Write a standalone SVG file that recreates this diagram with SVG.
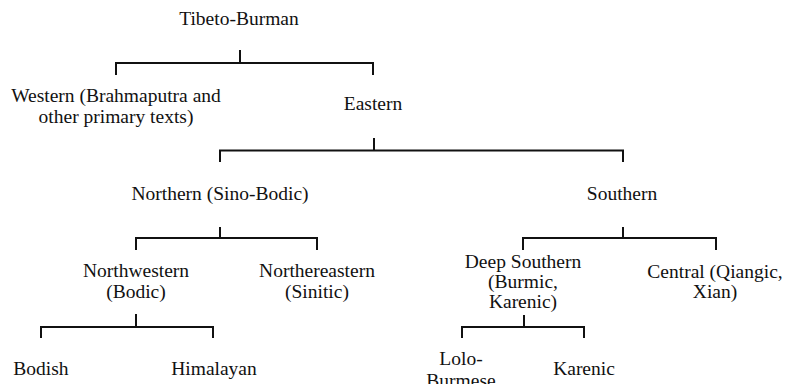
<svg xmlns="http://www.w3.org/2000/svg" width="788" height="384" viewBox="0 0 788 384">
<style>
text{font-family:"Liberation Serif","Times New Roman",serif;font-size:19.5px;fill:#111;text-anchor:middle}
.c path{fill:none;stroke:#111;stroke-width:2}
</style>
<rect width="788" height="384" fill="#fff"/>
<g class="c" id="connectors">
<path d="M116,75V63H373V75M240,50V63"/>
<path d="M220,162V150.5H623V162M374,138V150.5"/>
<path d="M136,250V238H317V250M220,227V238"/>
<path d="M523,250V238H716V250M623,227V238"/>
<path d="M41,338V327H213V338M136,314V327"/>
<path d="M462,338V327H584V338M524,315V327"/>
</g>
<g id="tibeto-burman"><text x="239" y="25">Tibeto-Burman</text></g>
<g id="western"><text x="116" y="102">Western (Brahmaputra and</text><text x="116" y="122.5">other primary texts)</text></g>
<g id="eastern"><text x="373" y="110">Eastern</text></g>
<g id="northern"><text x="220" y="200">Northern (Sino-Bodic)</text></g>
<g id="southern"><text x="622" y="200">Southern</text></g>
<g id="northwestern"><text x="136" y="277">Northwestern</text><text x="136" y="297.5">(Bodic)</text></g>
<g id="northeastern"><text x="317" y="277">Northereastern</text><text x="317" y="297.5">(Sinitic)</text></g>
<g id="deep-southern"><text x="523" y="267.5">Deep Southern</text><text x="523" y="288">(Burmic,</text><text x="523" y="307.5">Karenic)</text></g>
<g id="central"><text x="715" y="278">Central (Qiangic,</text><text x="715" y="298">Xian)</text></g>
<g id="bodish"><text x="41" y="375">Bodish</text></g>
<g id="himalayan"><text x="214" y="375">Himalayan</text></g>
<g id="lolo-burmese"><text x="461" y="365">Lolo-</text><text x="461" y="386.5">Burmese</text></g>
<g id="karenic"><text x="584" y="375">Karenic</text></g>
</svg>
